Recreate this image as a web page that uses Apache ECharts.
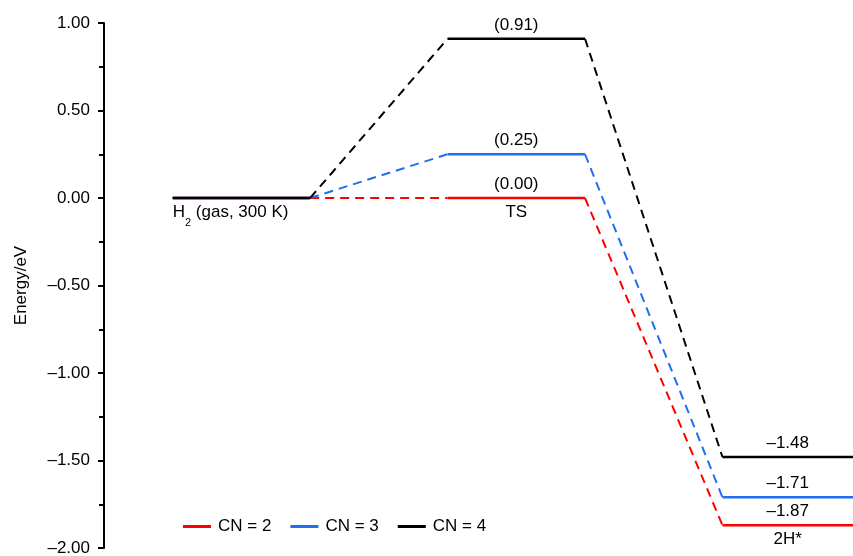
<!DOCTYPE html>
<html>
<head>
<meta charset="UTF-8">
<title>Energy profile</title>
<script src="https://cdn.jsdelivr.net/npm/echarts@6/dist/echarts.min.js"></script>
<style>
  html, body { margin: 0; padding: 0; background: #fff; }
  #chart { width: 853px; height: 556px; }
</style>
</head>
<body>
<div id="chart"></div>
<script>
// data
const seriesNames = ['CN = 2', 'CN = 3', 'CN = 4'];
const colors = ['#ff0000', '#1f6ff0', '#000000'];
const startEnergy = [0, 0, 0];
const tsEnergy = [0.00, 0.25, 0.91];
const finalEnergy = [-1.87, -1.71, -1.48];
const stageNames = ['H2 (gas, 300 K)', 'TS', '2H*'];
const yTicks = { min: -2, max: 1, interval: 0.5 };

// each stage level spans [2i, 2i+1] on a hidden x axis, last one runs to the edge
const xEnd = 4.95;
const levelSpan = (i) => [2 * i, i === 2 ? xEnd : 2 * i + 1];
const fmt = (v) => v.toFixed(2).replace('-', '\u2013');
const FONT = 'Liberation Sans';

const series = [];

// dashed connectors
seriesNames.forEach((name, k) => {
  const e = [startEnergy[k], tsEnergy[k], finalEnergy[k]];
  const pts = [];
  for (let i = 0; i < 2; i++) {
    pts.push([levelSpan(i)[1], e[i]]);
    pts.push([levelSpan(i + 1)[0], e[i + 1]]);
    pts.push(['-', '-']);
  }
  series.push({
    name: name,
    type: 'line',
    data: pts,
    showSymbol: false,
    symbol: 'none',
    connectNulls: false,
    lineStyle: { color: colors[k], width: 2, type: [9, 6] },
    itemStyle: { color: colors[k] },
    z: 2
  });
});

// solid levels with value labels
seriesNames.forEach((name, k) => {
  const e = [startEnergy[k], tsEnergy[k], finalEnergy[k]];
  const pts = [];
  for (let i = 0; i < 3; i++) {
    const s = levelSpan(i);
    pts.push([s[0], e[i]]);
    pts.push([s[1], e[i]]);
    pts.push(['-', '-']);
  }
  const mark = [
    { coord: [2.5, tsEnergy[k]], value: '(' + fmt(tsEnergy[k]) + ')' },
    { coord: [(levelSpan(2)[0] + levelSpan(2)[1]) / 2, finalEnergy[k]], value: fmt(finalEnergy[k]) }
  ];
  series.push({
    name: name,
    type: 'line',
    data: pts,
    showSymbol: false,
    symbol: 'none',
    connectNulls: false,
    lineStyle: { color: colors[k], width: 2.6, type: 'solid' },
    itemStyle: { color: colors[k] },
    z: 3 + k,
    markPoint: {
      symbol: 'circle',
      symbolSize: 0,
      silent: true,
      label: {
        show: true,
        position: 'top',
        distance: 5,
        color: '#000',
        fontSize: 17,
        fontFamily: FONT,
        formatter: (p) => p.value
      },
      data: mark
    }
  });
});

// stage names under the lowest level of each stage
const lowest = [
  Math.min(...startEnergy),
  Math.min(...tsEnergy),
  Math.min(...finalEnergy)
];
series.push({
  type: 'line',
  data: [],
  markPoint: {
    symbol: 'circle',
    symbolSize: 0,
    silent: true,
    label: {
      show: true,
      position: 'bottom',
      distance: 6,
      color: '#000',
      fontSize: 17,
      fontFamily: FONT,
      formatter: (p) => p.name === 'h2' ? 'H{sub|2} (gas, 300 K)' : p.value,
      rich: {
        sub: { fontSize: 11, verticalAlign: 'bottom', padding: [0, 0, -7, 0], fontFamily: FONT }
      }
    },
    data: [
      { name: 'h2', coord: [0, lowest[0]], value: stageNames[0], label: { align: 'left' } },
      { name: 'ts', coord: [2.5, lowest[1]], value: stageNames[1] },
      { name: 'fs', coord: [(levelSpan(2)[0] + levelSpan(2)[1]) / 2, lowest[2]], value: stageNames[2] }
    ]
  }
});

const chart = echarts.init(document.getElementById('chart'));
chart.setOption({
  animation: false,
  grid: { left: 104, right: 0, top: 23, bottom: 8, outerBoundsMode: 'none', containLabel: false },
  legend: {
    left: 183,
    top: 518,
    padding: 0,
    itemWidth: 28,
    itemHeight: 3,
    itemGap: 19,
    icon: 'rect',
    textStyle: { fontSize: 17, color: '#000', fontFamily: FONT, padding: [0, 0, 0, 2] },
    data: seriesNames.map((n, k) => ({ name: n, itemStyle: { color: colors[k] } }))
  },
  xAxis: {
    type: 'value',
    min: -0.5,
    max: xEnd,
    show: false
  },
  yAxis: {
    type: 'value',
    min: yTicks.min,
    max: yTicks.max,
    interval: yTicks.interval,
    name: 'Energy/eV',
    nameLocation: 'middle',
    nameGap: 74,
    nameTextStyle: { fontSize: 17, color: '#000', fontFamily: FONT },
    axisLine: { show: true, onZero: false, lineStyle: { color: '#000', width: 2 } },
    axisTick: { show: true, inside: false, length: 6, lineStyle: { color: '#000', width: 2 } },
    minorTick: { show: true, splitNumber: 2, length: 5, lineStyle: { color: '#000', width: 2 } },
    splitLine: { show: false },
    axisLabel: {
      margin: 14,
      fontSize: 17,
      color: '#000',
      fontFamily: FONT,
      formatter: (v) => fmt(v)
    }
  },
  series: series
});
</script>
</body>
</html>
